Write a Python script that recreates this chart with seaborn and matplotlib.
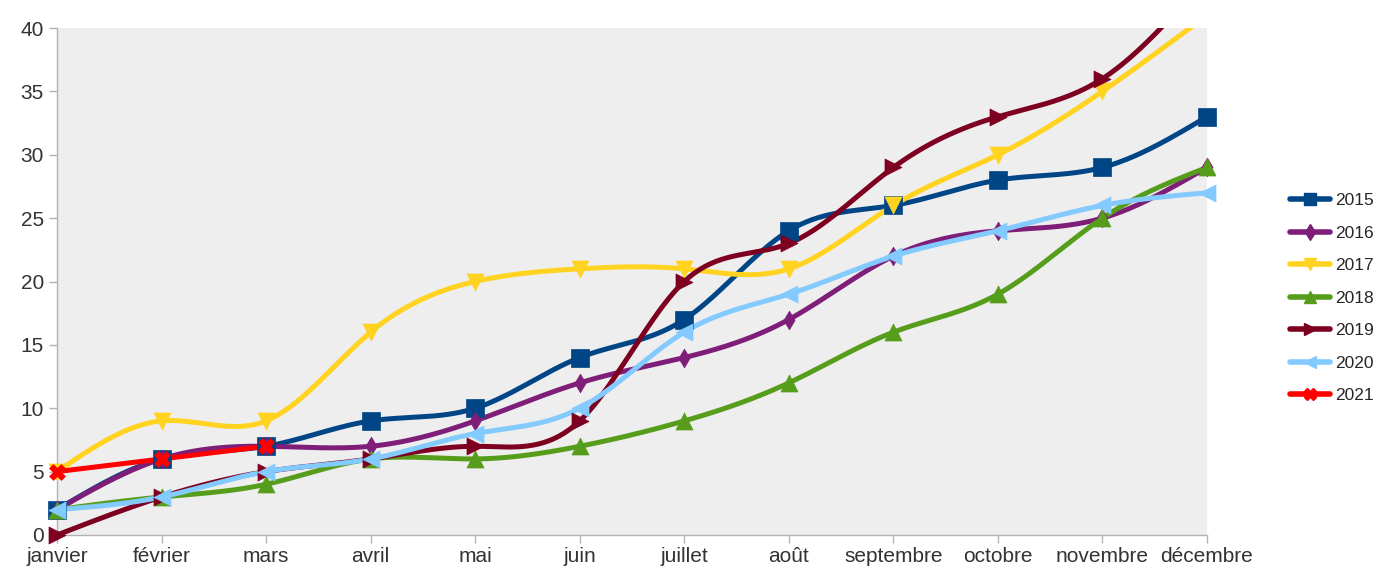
import numpy as np
import pandas as pd
import matplotlib
matplotlib.use("Agg")
import matplotlib.pyplot as plt
from matplotlib.lines import Line2D
import seaborn as sns

months = ["janvier", "février", "mars", "avril", "mai", "juin", "juillet",
          "août", "septembre", "octobre", "novembre", "décembre"]

y2015 = [2, 6, 7, 9, 10, 14, 17, 24, 26, 28, 29, 33]
y2016 = [2, 6, 7, 7, 9, 12, 14, 17, 22, 24, 25, 29]
y2017 = [5, 9, 9, 16, 20, 21, 21, 21, 26, 30, 35, 41]
y2018 = [2, 3, 4, 6, 6, 7, 9, 12, 16, 19, 25, 29]
y2019 = [0, 3, 5, 6, 7, 9, 20, 23, 29, 33, 36, 44]
y2020 = [2, 3, 5, 6, 8, 10, 16, 19, 22, 24, 26, 27]
y2021 = [5, 6, 7]

series = {"2015": y2015, "2016": y2016, "2017": y2017, "2018": y2018,
          "2019": y2019, "2020": y2020, "2021": y2021}
colors = {"2015": "#004586", "2016": "#7e1e79", "2017": "#ffd320",
          "2018": "#579d1c", "2019": "#7e0021", "2020": "#83caff",
          "2021": "#ff0000"}
markers = {"2015": "s", "2016": "d", "2017": "v", "2018": "^",
           "2019": ">", "2020": "<", "2021": "X"}
msizes = {"2015": 150, "2016": 90, "2017": 150, "2018": 150,
          "2019": 150, "2020": 150, "2021": 130}


def natural_spline(x, y, n=40):
    # natural cubic spline, like the chart tool's smoothed lines
    x = np.asarray(x, float)
    y = np.asarray(y, float)
    k = len(x)
    if k < 3:
        return x, y
    h = np.diff(x)
    A = np.zeros((k, k))
    b = np.zeros(k)
    A[0, 0] = A[-1, -1] = 1
    for i in range(1, k - 1):
        A[i, i - 1] = h[i - 1]
        A[i, i] = 2 * (h[i - 1] + h[i])
        A[i, i + 1] = h[i]
        b[i] = 3 * ((y[i + 1] - y[i]) / h[i] - (y[i] - y[i - 1]) / h[i - 1])
    c = np.linalg.solve(A, b)
    xs, ys = [], []
    for i in range(k - 1):
        t = np.linspace(0, h[i], n, endpoint=(i == k - 2))
        bi = (y[i + 1] - y[i]) / h[i] - h[i] * (2 * c[i] + c[i + 1]) / 3
        di = (c[i + 1] - c[i]) / (3 * h[i])
        xs.append(x[i] + t)
        ys.append(y[i] + bi * t + c[i] * t ** 2 + di * t ** 3)
    return np.concatenate(xs), np.concatenate(ys)


rows = []
pts = []
for name, vals in series.items():
    xs, ys = natural_spline(np.arange(len(vals)), vals)
    for a, b in zip(xs, ys):
        rows.append({"x": a, "y": b, "year": name})
    for i, v in enumerate(vals):
        if v <= 40:
            pts.append({"x": i, "y": v, "year": name})
curves = pd.DataFrame(rows)
points = pd.DataFrame(pts)

sns.set_theme(style="white")
plt.rcParams["font.family"] = ["Liberation Sans", "DejaVu Sans"]

fig = plt.figure(figsize=(13.8, 5.79), dpi=100)
ax = fig.add_axes([0.0413, 0.076, 0.8333, 0.8756])
ax.set_facecolor("#eeeeee")

for name in series:
    sub = curves[curves["year"] == name]
    sns.lineplot(data=sub, x="x", y="y", color=colors[name], lw=3.6,
                 sort=False, estimator=None, ax=ax, legend=False)
    sp = points[points["year"] == name]
    sns.scatterplot(data=sp, x="x", y="y", color=colors[name],
                    marker=markers[name], s=msizes[name], edgecolor=colors[name],
                    linewidth=0.5, ax=ax, legend=False, clip_on=False, zorder=5)

ax.set_xlim(0, 11)
ax.set_ylim(0, 40)
ax.set_xticks(range(12))
ax.set_xticklabels(months)
ax.set_yticks(range(0, 41, 5))
ax.set_xlabel("")
ax.set_ylabel("")
ax.tick_params(axis="both", colors="#b3b3b3", labelcolor="#333333",
               labelsize=15, length=6, width=1, direction="out",
               bottom=True, left=True)
ax.tick_params(axis="x", pad=3)
for side in ["top", "right"]:
    ax.spines[side].set_visible(False)
for side in ["left", "bottom"]:
    ax.spines[side].set_color("#b3b3b3")
    ax.spines[side].set_linewidth(1)

handles = [Line2D([0], [0], color=colors[n], lw=4, marker=markers[n],
                  markersize=8, markeredgecolor=colors[n]) for n in series]
fig.legend(handles, list(series.keys()), loc="center left",
           bbox_to_anchor=(0.935, 0.485), frameon=False, fontsize=12.5,
           handlelength=2.3, labelspacing=1.0, handletextpad=0.3,
           borderaxespad=0, borderpad=0)

fig.savefig("out.png", dpi=100)
